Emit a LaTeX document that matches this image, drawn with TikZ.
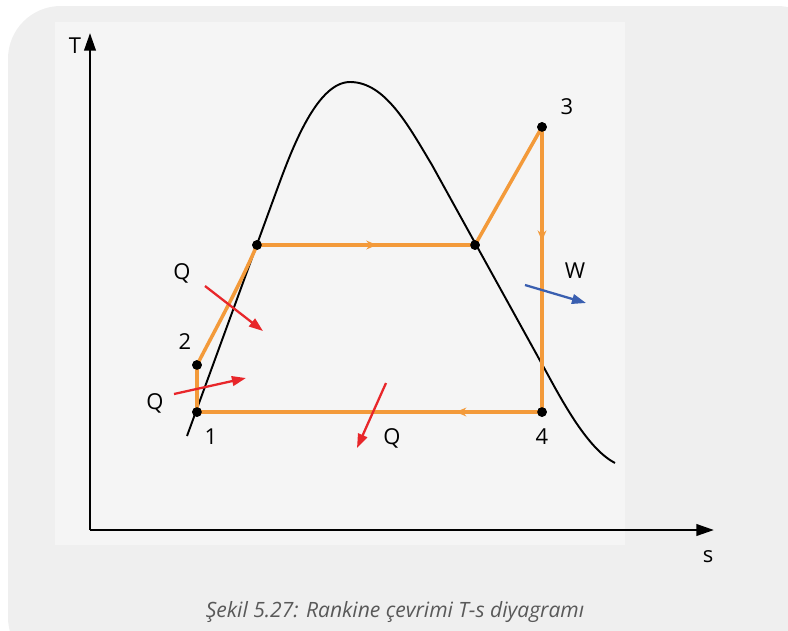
\documentclass[tikz,border=0pt]{standalone}
\usepackage{fontspec}
\setmainfont{Open Sans}
\usepackage{xcolor}
\usetikzlibrary{arrows.meta,decorations.markings}

\definecolor{cycle}{HTML}{F39A3A}
\definecolor{heat}{HTML}{E8262A}
\definecolor{work}{HTML}{3A5FB0}
\definecolor{card}{HTML}{EFEFEF}
\definecolor{plotbg}{HTML}{F5F5F5}

\begin{document}
\begin{tikzpicture}[
    x=0.02cm, y=-0.02cm,
    axis/.style ={line width=1.4pt, -{Triangle[length=10pt, width=6.5pt]}},
    dome/.style ={line width=1.1pt},
    leg/.style  ={line width=2pt, cycle},
    dot/.style  ={circle, fill=black, inner sep=0pt, minimum size=5.5pt},
    lbl/.style  ={font=\fontsize{12.5}{14}\selectfont, inner sep=1pt},
    heatarr/.style={line width=1.3pt, heat, -{Triangle[length=8pt, width=5.5pt]}},
    workarr/.style={line width=1.3pt, work, -{Triangle[length=8pt, width=5.5pt]}},
    midarrow/.style={postaction={decorate}, decoration={markings,
        mark=at position #1 with {\arrow{Stealth[length=6pt, width=5pt]}}}}
  ]
    \useasboundingbox (0,0) rectangle (788,630);
    % card and plot area
    \fill[card, rounded corners=30pt] (8,6) rectangle (830,670);
    \fill[plotbg] (55,22) rectangle (625,545);

    % axes
    \coordinate (O) at (90,530);
    \coordinate (Tt) at (90,33);
    \coordinate (st) at (714,530);
    \draw[axis] (O) -- (Tt);
    \draw[axis] (O) -- (st);
    \node[lbl] (Tl) at (75,46) {T};
    \node[lbl] (sl) at (708,557) {s};

    % saturation dome
    \draw[dome] (187,436) -- (275,195)
        .. controls (289,157) and (315,82) .. (350,82)
        .. controls (385,82) and (408,125) .. (432,165)
        -- (548,375)
        .. controls (567,410) and (590,450) .. (615,463);

    % state points
    \node[dot] (p1) at (197,412) {};
    \node[dot] (p2) at (197,365) {};
    \node[dot] (pf) at (257,245) {};
    \node[dot] (pg) at (475,245) {};
    \node[dot] (p3) at (542,127) {};
    \node[dot] (p4) at (542,412) {};

    % cycle
    \draw[leg] (p1.center) -- (p2.center);
    \draw[leg] (p2.center) .. controls (215,330) and (240,285) .. (pf.center);
    \draw[leg, midarrow=0.55] (pf.center) -- (pg.center);
    \draw[leg] (pg.center) -- (p3.center);
    \draw[leg, midarrow=0.4] (p3.center) -- (p4.center);
    \draw[leg, midarrow=0.25] (p4.center) -- (p1.center);
    \foreach \p in {p1,p2,pf,pg,p3,p4} \node[dot] at (\p) {};

    % point labels
    \node[lbl] (l1) at (211,437) {1};
    \node[lbl] (l2) at (185,342) {2};
    \node[lbl] (l3) at (567,107) {3};
    \node[lbl] (l4) at (542,437) {4};

    % heat and work
    \node[lbl] (qa) at (182,273) {Q};
    \node[lbl] (qb) at (155,403) {Q};
    \node[lbl] (qc) at (392,438) {Q};
    \node[lbl] (wl) at (575,271) {W};
    \coordinate (qa1) at (205,286);  \coordinate (qa2) at (263,331);
    \coordinate (qb1) at (174,394);  \coordinate (qb2) at (246,378);
    \coordinate (qc1) at (386,383);  \coordinate (qc2) at (357,448);
    \coordinate (w1)  at (525,285);  \coordinate (w2)  at (586,303);
    \foreach \a/\b in {qa1/qa2, qb1/qb2, qc1/qc2} \draw[heatarr] (\a) -- (\b);
    \draw[workarr] (w1) -- (w2);

    % caption
    \node[font=\fontsize{12}{14}\selectfont\itshape, text=black!65] (cap) at (395,612)
        {Şekil 5.27: Rankine çevrimi T-s diyagramı};
\end{tikzpicture}
\end{document}
